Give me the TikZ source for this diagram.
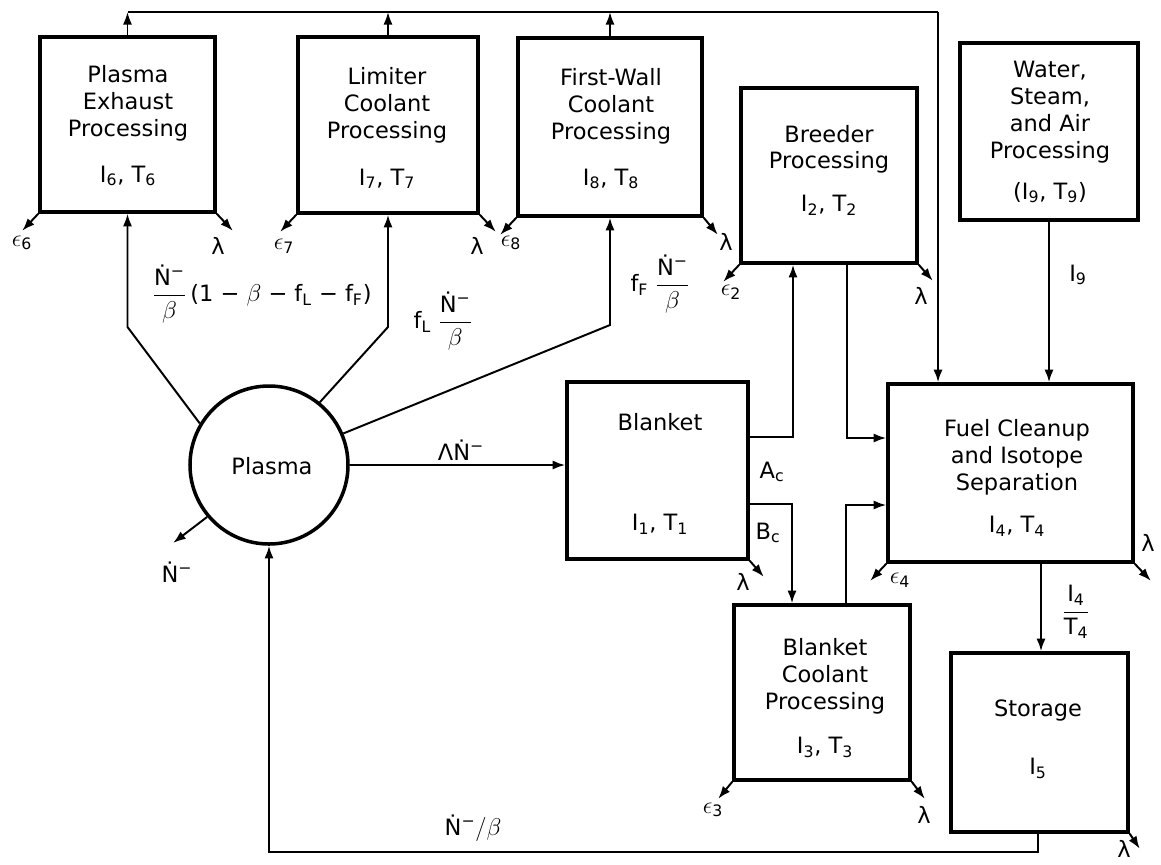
\documentclass[tikz,border=0pt]{standalone}
\usepackage{amsmath}
\usepackage{fontspec}
\setmainfont{DejaVu Sans}
\usetikzlibrary{arrows.meta}
\newcommand{\Nd}{\text{Ṅ\textsuperscript{−}}}
\begin{document}
\begin{tikzpicture}[x=0.025cm,y=-0.025cm,
  font=\fontsize{16}{19.2}\selectfont,
  blk/.style n args={2}{draw, line width=2.5pt, minimum width=#1*0.025cm, minimum height=#2*0.025cm, inner sep=0pt},
  txt/.style={align=center, inner sep=0pt},
  ln/.style={line width=1.4pt},
  arr/.style={ln, -{Latex[length=9pt,width=6.5pt]}},
  lbl/.style={inner sep=1pt}]
\useasboundingbox (0,0) rectangle (1161,864);
% boxes
\node[blk={175}{175}] (pe) at (127.5,124.5) {};
\node[blk={180}{176}] (lc) at (388,125) {};
\node[blk={184}{178}] (fw) at (610,127) {};
\node[blk={176}{175}] (br) at (829,175.5) {};
\node[blk={178}{177}] (ws) at (1049,131.5) {};
\node[draw, line width=2.5pt, circle, minimum size=158*0.025cm, inner sep=0pt] (pl) at (269,465) {};
\node[blk={181}{177}] (bl) at (657.5,470.5) {};
\node[blk={245}{178}] (fc) at (1010.5,473) {};
\node[blk={176}{175}] (bc) at (822,692.5) {};
\node[blk={177}{179}] (st) at (1039.5,742.5) {};
% box texts
\node[txt] (pet) at (128,126) {Plasma\\Exhaust\\Processing\\[13pt]I\textsubscript{6}, T\textsubscript{6}};
\node[txt] (lct) at (387,128) {Limiter\\Coolant\\Processing\\[14pt]I\textsubscript{7}, T\textsubscript{7}};
\node[txt] (fwt) at (611,129) {First-Wall\\Coolant\\Processing\\[13pt]I\textsubscript{8}, T\textsubscript{8}};
\node[txt] (brt) at (829,170) {Breeder\\Processing\\[11pt]I\textsubscript{2}, T\textsubscript{2}};
\node[txt] (wst) at (1050,132) {Water,\\Steam,\\and Air\\Processing\\[10pt](I\textsubscript{9}, T\textsubscript{9})};
\node[txt] (plt) at (272,466) {Plasma};
\node[txt] (blt) at (660,474) {Blanket\\[52pt]I\textsubscript{1}, T\textsubscript{1}};
\node[txt] (fct) at (1017,478) {Fuel Cleanup\\and Isotope\\Separation\\[11pt]I\textsubscript{4}, T\textsubscript{4}};
\node[txt] (bct) at (825,698) {Blanket\\Coolant\\Processing\\[12pt]I\textsubscript{3}, T\textsubscript{3}};
\node[txt] (stt) at (1038,739) {Storage\\[22pt]I\textsubscript{5}};
% top collector line
\coordinate (tl) at (127.5,12);
\coordinate (tr) at (938,12);
\draw[ln] (tl) -- (tr);
\draw[arr] (tr) -- (tr |- fc.north);
\draw[arr] (pe.north) -- (pe.north |- tl);
\draw[arr] (lc.north) -- (lc.north |- tl);
\draw[arr] (fw.north) -- (fw.north |- tl);
\draw[arr] (ws.south) -- (ws.south |- fc.north);
% plasma outputs
\coordinate (k1) at (127.5,327);
\coordinate (k2) at (388,327);
\coordinate (k3) at (610,325);
\draw[arr] (pl.149) -- (k1) -- (pe.south);
\draw[arr] (pl.51) -- (k2) -- (lc.south);
\draw[arr] (pl.23) -- (k3) -- (fw.south);
\draw[arr] (pl.east) -- (pl.east -| bl.west);
\draw[arr] (pl.220) -- ++(-34,26);
% blanket outputs
\coordinate (ac) at (793,437);
\coordinate (bcc) at (792,504);
\draw[arr] (ac -| bl.east) -- (ac) -- (ac |- br.south);
\draw[arr] (bcc -| bl.east) -- (bcc) -- (bcc |- bc.north);
% into fuel cleanup
\coordinate (bf) at (847,438);
\coordinate (cf) at (846,505);
\draw[arr] (bf |- br.south) -- (bf) -- (bf -| fc.west);
\draw[arr] (cf |- bc.north) -- (cf) -- (cf -| fc.west);
% fuel cleanup to storage
\coordinate (fs) at (1041,600);
\draw[arr] (fs |- fc.south) -- (fs |- st.north);
% storage back to plasma
\coordinate (sb) at (1038,852);
\draw[arr] (st.south -| sb) -- (sb) -- (sb -| pl.south) -- (pl.south);
% corner leaks
\draw[arr] (pe.south west) -- ++(-16,17);
\draw[arr] (pe.south east) -- ++(16,17);
\draw[arr] (lc.south west) -- ++(-16,17);
\draw[arr] (lc.south east) -- ++(16,17);
\draw[arr] (fw.south west) -- ++(-16,17);
\draw[arr] (fw.south east) -- ++(14,17);
\draw[arr] (br.south west) -- ++(-16,17);
\draw[arr] (br.south east) -- ++(14,16);
\draw[arr] (bl.south east) -- ++(14,16);
\draw[arr] (fc.south west) -- ++(-16,17);
\draw[arr] (fc.south east) -- ++(16,17);
\draw[arr] (bc.south west) -- ++(-14,17);
\draw[arr] (bc.south east) -- ++(13,17);
\draw[arr] (st.south east) -- ++(10,15);
% leak labels
\node[lbl] (e6) at (22,243) {$\epsilon_{\text{6}}$};
\node[lbl] (la6) at (218,246) {λ};
\node[lbl] (e7) at (284,246) {$\epsilon_{\text{7}}$};
\node[lbl] (la7) at (477,246) {λ};
\node[lbl] (e8) at (511,243) {$\epsilon_{\text{8}}$};
\node[lbl] (la8) at (726,242) {λ};
\node[lbl] (e2) at (731,292) {$\epsilon_{\text{2}}$};
\node[lbl] (la2) at (921,296) {λ};
\node[lbl] (la1) at (743,582) {λ};
\node[lbl] (e4) at (900,580) {$\epsilon_{\text{4}}$};
\node[lbl] (la4) at (1148,543) {λ};
\node[lbl] (e3) at (713,810) {$\epsilon_{\text{3}}$};
\node[lbl] (la3) at (924,815) {λ};
\node[lbl] (la5) at (1124,849) {λ};
\node[lbl] (nout) at (177,572) {$\Nd$};
% flow labels
\node[lbl] (f1) at (262,294) {$\displaystyle\frac{\Nd}{\beta}$\,(1 − $\beta$ − f\textsubscript{L} − f\textsubscript{F})};
\node[lbl] (f2) at (443,321) {f\textsubscript{L} $\displaystyle\frac{\Nd}{\beta}$};
\node[lbl] (f3) at (660,284) {f\textsubscript{F} $\displaystyle\frac{\Nd}{\beta}$};
\node[lbl] (f4) at (461,450) {Λ$\Nd$};
\node[lbl] (fac) at (772,472) {A\textsubscript{c}};
\node[lbl] (fbc) at (768,533) {B\textsubscript{c}};
\node[lbl] (f9) at (1078,275) {I\textsubscript{9}};
\node[lbl] (f45) at (1076,612) {$\displaystyle\frac{\text{I}_{\text{4}}}{\text{T}_{\text{4}}}$};
\node[lbl] (fret) at (473,828) {$\Nd/\beta$};
\end{tikzpicture}
\end{document}
